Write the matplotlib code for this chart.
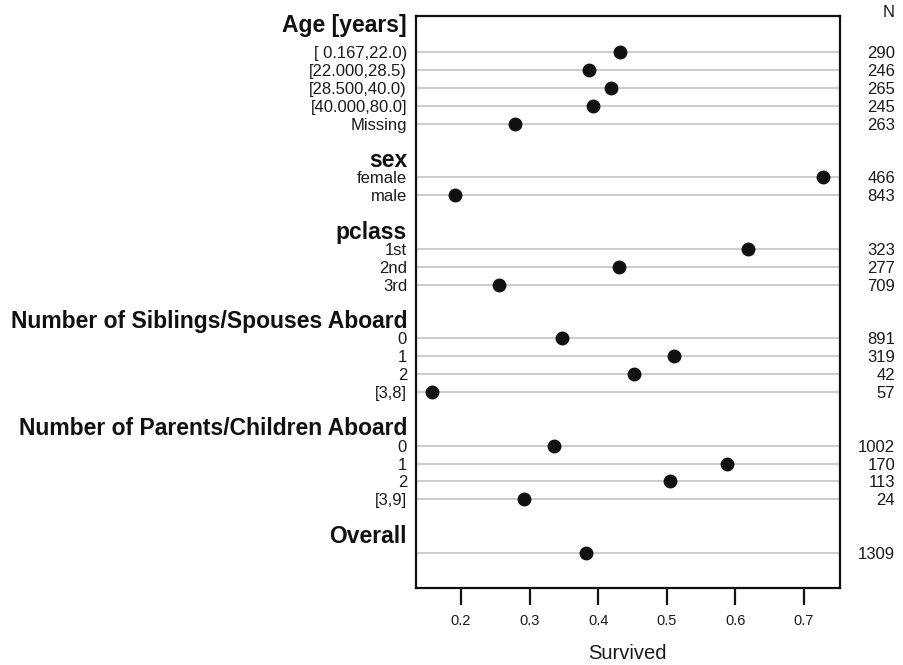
import matplotlib
matplotlib.use("Agg")
import matplotlib.pyplot as plt
from matplotlib import transforms

plt.rcParams['font.family'] = ['Liberation Sans', 'DejaVu Sans']

# grupos, rotulos, proporcao de sobreviventes e N
grupos = ["Age [years]", "sex", "pclass", "Number of Siblings/Spouses Aboard",
          "Number of Parents/Children Aboard", "Overall"]
rotulos = [
    ["[ 0.167,22.0)", "[22.000,28.5)", "[28.500,40.0)", "[40.000,80.0]", "Missing"],
    ["female", "male"],
    ["1st", "2nd", "3rd"],
    ["0", "1", "2", "[3,8]"],
    ["0", "1", "2", "[3,9]"],
    [""],
]
sobreviveu = [
    [0.432, 0.386, 0.419, 0.392, 0.278],
    [0.727, 0.191],
    [0.619, 0.430, 0.255],
    [0.347, 0.511, 0.452, 0.158],
    [0.335, 0.588, 0.504, 0.292],
    [0.382],
]
contagens = [
    [290, 246, 265, 245, 263],
    [466, 843],
    [323, 277, 709],
    [891, 319, 42, 57],
    [1002, 170, 113, 24],
    [1309],
]
xticks = [0.2, 0.3, 0.4, 0.5, 0.6, 0.7]

fig = plt.figure(figsize=(9.04, 6.65), dpi=100)
ax = fig.add_axes([0.4602, 0.1158, 0.4690, 0.8601])

trans = transforms.blended_transform_factory(ax.transAxes, ax.transData)

# calcula as posicoes das linhas (uma linha em branco entre grupos)
pos = 0
for g, nome in enumerate(grupos):
    ys = []
    for i in range(len(rotulos[g])):
        ys.append(pos)
        pos += 1
    pos += 2
    # cabecalho do grupo
    if g == 0:
        yh = ys[0] - 1.14
    else:
        yh = ys[0] - 0.57
    ax.text(-0.021, yh, nome, transform=trans, ha='right', va='baseline',
            fontsize=16.5, fontweight='bold', color='#111111')
    for y, lab, v, n in zip(ys, rotulos[g], sobreviveu[g], contagens[g]):
        ax.axhline(y, color='#c8c8c8', lw=1.3, zorder=1)
        ax.plot(v, y, 'o', color='#111111', ms=9, zorder=3)
        ax.text(-0.021, y, lab, transform=trans, ha='right', va='center_baseline',
                fontsize=12, color='#1a1a1a')
        ax.text(1.13, y, str(n), transform=trans, ha='right', va='center_baseline',
                fontsize=12, color='#1a1a1a')

ax.text(1.13, 1.007, "N", transform=ax.transAxes, ha='right', va='center',
        fontsize=12, color='#1a1a1a')

ax.set_ylim(29.96, -2.03)
ax.set_xlim(0.1344, 0.7525)
ax.set_yticks([])
ax.set_xticks(xticks)
ax.set_xticklabels([str(t) for t in xticks])
ax.tick_params(axis='x', length=12, width=1.6, pad=7, labelsize=10.5, color='#111111',
               labelcolor='#1a1a1a')
for s in ax.spines.values():
    s.set_linewidth(1.6)
    s.set_color('#111111')

fig.text(0.6945, 0.018, "Survived", ha='center', va='center', fontsize=14.5, color='#1a1a1a')

fig.savefig("out.png", dpi=100)
